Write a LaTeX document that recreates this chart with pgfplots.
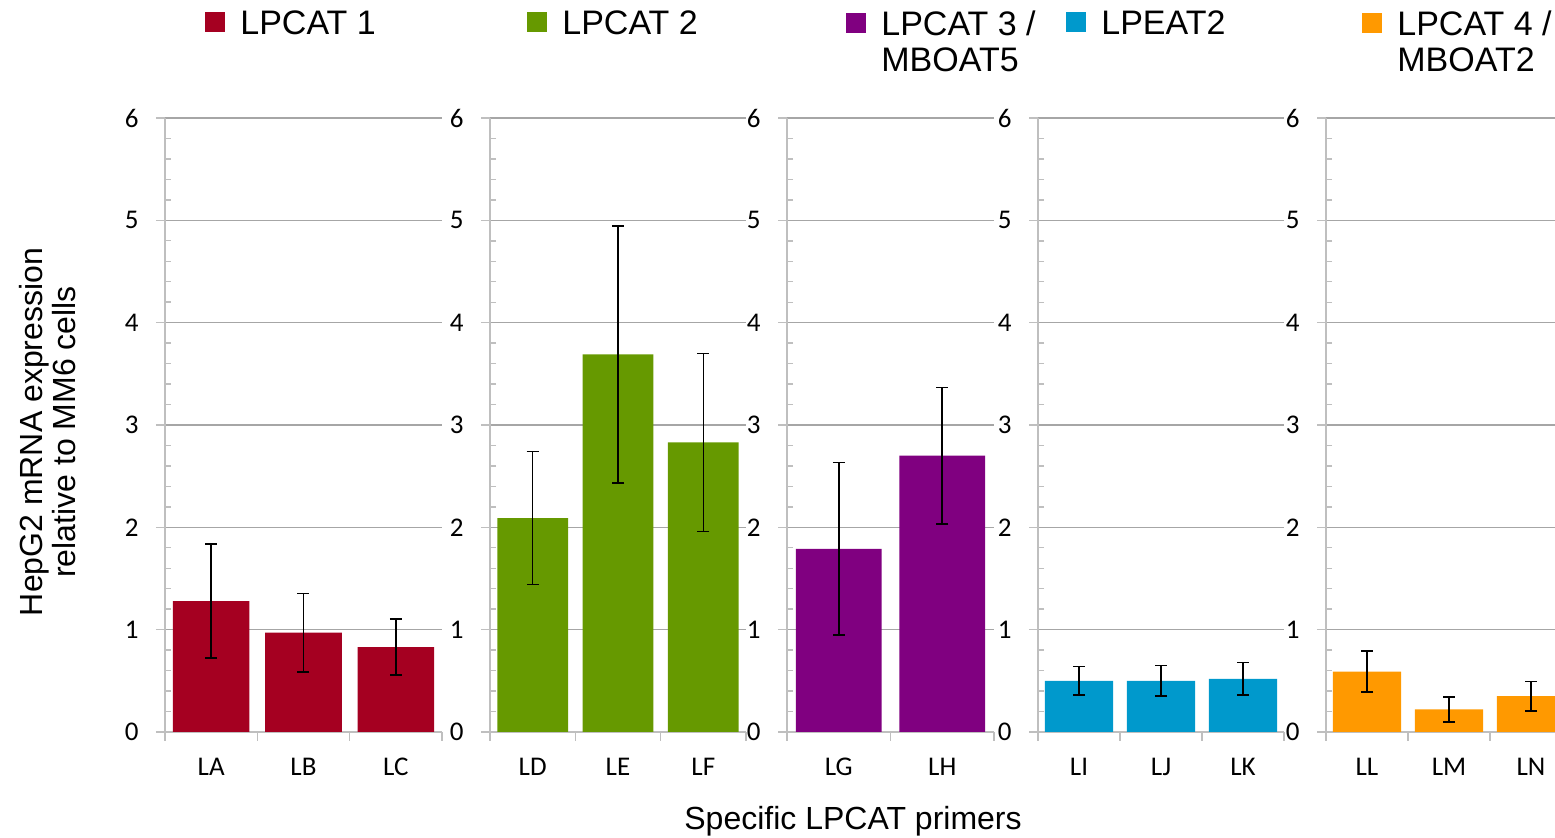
\documentclass[border=0pt]{standalone}
\usepackage{pgfplots}
\pgfplotsset{compat=1.18}
\usepackage{fontspec}
\setmainfont{Liberation Sans}
\newfontfamily\tickfont{Carlito}
\definecolor{cRed}{HTML}{A50021}
\definecolor{cGreen}{HTML}{669900}
\definecolor{cPurple}{HTML}{800080}
\definecolor{cBlue}{HTML}{0099CC}
\definecolor{cOrange}{HTML}{FF9900}
\definecolor{gridgray}{HTML}{A6A6A6}
\definecolor{axgray}{HTML}{BFBFBF}
\pgfplotsset{
  panel/.style={
    scale only axis, height=307pt, anchor=south west,
    /pgf/number format/assume math mode=true,
    ymin=0, ymax=6, ytick={0,1,2,3,4,5,6}, minor y tick num=4,
    ymajorgrids, major grid style={draw=gridgray, line width=0.6pt},
    axis x line*=bottom, axis y line*=left,
    axis line style={draw=axgray, line width=0.7pt, -},
    tick style={draw=axgray, line width=0.7pt},
    tick align=outside, major tick length=4.5pt, minor tick length=-3pt,
    xmin=-0.5, xticklabels={},
    ticklabel style={font=\tickfont\fontsize{13.5}{16}\selectfont, text=black},
    yticklabel style={inner sep=0pt, xshift=-8.5pt},
    extra x tick style={major tick style={draw=none}, xticklabel style={inner sep=0pt, yshift=-8.5pt}},
    bar width=0.83,
    legend style={draw=none, fill=none, inner sep=0pt, anchor=north west,
      font=\fontsize{17}{18.4}\selectfont, column sep=7.5pt,
      nodes={inner sep=0pt, text depth=0pt, align=left}},
    legend image code/.code={\fill[##1] (0pt,-5pt) rectangle (10pt,5pt);},
  },
  twoline/.style={legend image code/.code={\fill[##1] (0pt,4.2pt) rectangle (10pt,14.2pt);}},
  errs/.style={error bars/.cd, y dir=both, y explicit, error mark=-,
    error bar style={black, line width=0.8pt},
    error mark options={black, line width=0.8pt, mark size=3pt, rotate=90}},
}
\begin{document}
\begin{tikzpicture}
\useasboundingbox (0pt,0pt) rectangle (777.5pt,-419pt);
% Panel 1
\begin{axis}[panel, at={(82.5pt,-366pt)}, width=138.5pt, xmax=2.5,
  xtick={-0.5,0.5,1.5,2.5}, extra x ticks={0,1,2}, extra x tick labels={LA,LB,LC},
  legend style={at={(0.1444,1.1759)}},
  ylabel={HepG2 mRNA expression\\relative to MM6 cells},
  ylabel style={at={(axis description cs:-0.4224,0.4886)}, anchor=center, align=center, font=\fontsize{16}{16.5}\selectfont}]
\addplot[ybar, fill=cRed, draw=none, errs] table[x=x, y=y, y error=e] {
x y e
0 1.28 0.555
1 0.97 0.385
2 0.83 0.275
};
\addlegendentry{LPCAT 1}
\end{axis}
% Panel 2
\begin{axis}[panel, at={(245pt,-366pt)}, width=128pt, xmax=2.5,
  xtick={-0.5,0.5,1.5,2.5}, extra x ticks={0,1,2}, extra x tick labels={LD,LE,LF},
  legend style={at={(0.1445,1.1759)}}]
\addplot[ybar, fill=cGreen, draw=none, errs] table[x=x, y=y, y error=e] {
x y e
0 2.09 0.65
1 3.69 1.255
2 2.83 0.87
};
\addlegendentry{LPCAT 2}
\end{axis}
% Panel 3
\begin{axis}[panel, twoline, at={(393.5pt,-366pt)}, width=103.5pt, xmax=1.5,
  xtick={-0.5,0.5,1.5}, extra x ticks={0,1}, extra x tick labels={LG,LH},
  legend style={at={(0.285,1.1759)}},
  xlabel={Specific LPCAT primers},
  xlabel style={at={(axis description cs:0.319,-0.1596)}, anchor=base, font=\fontsize{16}{18.4}\selectfont}]
\addplot[ybar, fill=cPurple, draw=none, errs] table[x=x, y=y, y error=e] {
x y e
0 1.79 0.845
1 2.70 0.665
};
\addlegendentry{LPCAT 3 /\\MBOAT5}
\end{axis}
% Panel 4
\begin{axis}[panel, at={(519pt,-366pt)}, width=123pt, xmax=2.5,
  xtick={-0.5,0.5,1.5,2.5}, extra x ticks={0,1,2}, extra x tick labels={LI,LJ,LK},
  legend style={at={(0.1138,1.1759)}}]
\addplot[ybar, fill=cBlue, draw=none, errs] table[x=x, y=y, y error=e] {
x y e
0 0.50 0.14
1 0.50 0.15
2 0.52 0.16
};
\addlegendentry{LPEAT2}
\end{axis}
% Panel 5
\begin{axis}[panel, twoline, at={(663pt,-366pt)}, width=123pt, xmax=2.5,
  xtick={-0.5,0.5,1.5,2.5}, extra x ticks={0,1,2}, extra x tick labels={LL,LM,LN},
  legend style={at={(0.1463,1.1759)}}]
\addplot[ybar, fill=cOrange, draw=none, errs] table[x=x, y=y, y error=e] {
x y e
0 0.59 0.20
1 0.22 0.12
2 0.35 0.145
};
\addlegendentry{LPCAT 4 /\\MBOAT2}
\end{axis}
\end{tikzpicture}
\end{document}
